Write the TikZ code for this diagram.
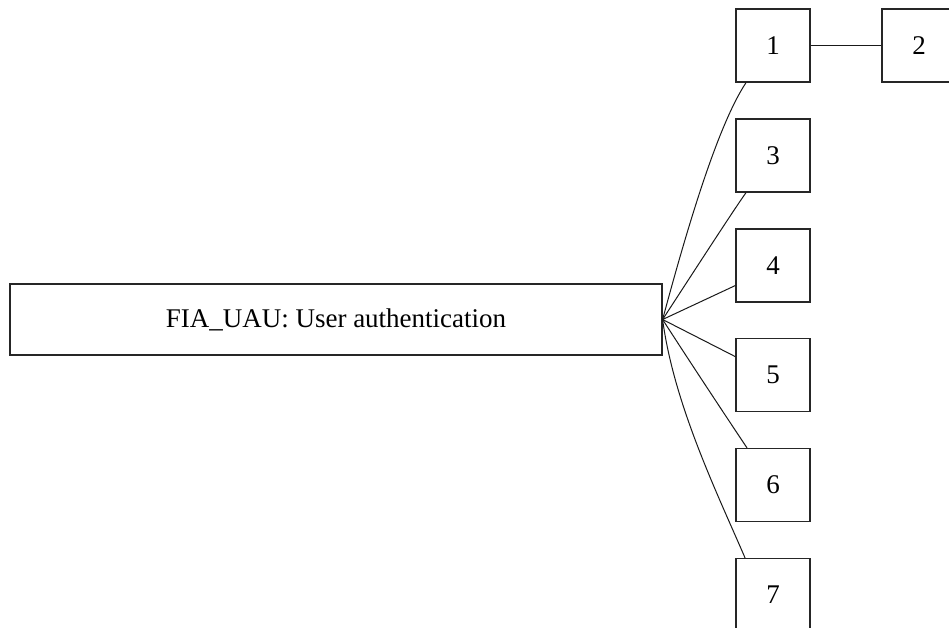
\documentclass[tikz,border=0pt]{standalone}
\usepackage{fontspec}
\setmainfont{Liberation Serif}
\usepackage{tikz}
\usetikzlibrary{calc}
\tikzset{
  font=\fontsize{27}{32}\selectfont,
  famblk/.style={draw=black!85,line width=1.2pt,fill=white,minimum width=652pt,
                 minimum height=71pt,inner sep=0pt,anchor=center},
  cmp/.style={draw=black!85,line width=1.2pt,fill=white,minimum width=74pt,
              minimum height=73pt,inner sep=0pt,anchor=center},
  lnk/.style={draw=black!90,line width=1pt},
}
\begin{document}
\begin{tikzpicture}[x=1pt,y=-1pt]
  \clip (0,0) rectangle (949,628);
  \useasboundingbox (0,0) rectangle (949,628);
  % ---- family ----
  \node[famblk] (uau) at (336,319.5) {FIA\_UAU: User authentication};
  % ---- components ----
  \node[cmp] (c1) at (773,45.5) {1};
  \node[cmp] (c2) at (919,45.5) {2};
  \node[cmp] (c3) at (773,155.5) {3};
  \node[cmp] (c4) at (773,265.5) {4};
  \node[cmp] (c5) at (773,375) {5};
  \node[cmp] (c6) at (773,485) {6};
  \node[cmp] (c7) at (773,595) {7};
  % ---- links ----
  \draw[lnk] (c1.east) -- (c2.west);
  \draw[lnk] (uau.east) .. controls (688,225) and (718,125) .. (c1.234);
  \draw[lnk] (uau.east) .. controls (700,262) and (735,208) .. (c3.234);
  \draw[lnk] (uau.east) -- (c4.208);
  \draw[lnk] (uau.east) -- (c5.154);
  \draw[lnk] (uau.east) .. controls (690,362) and (725,415) .. (c6.125);
  \draw[lnk] (uau.east) .. controls (674,405) and (718,495) .. (c7.127);
\end{tikzpicture}
\end{document}
